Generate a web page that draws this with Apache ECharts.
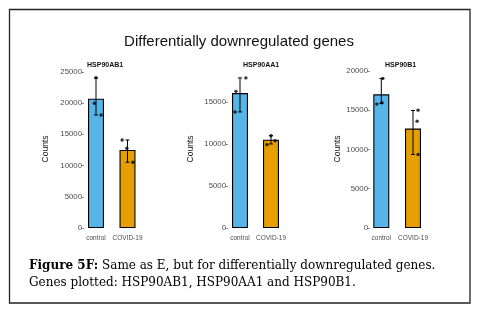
<!DOCTYPE html>
<html><head><meta charset="utf-8">
<script src="https://cdn.jsdelivr.net/npm/echarts@6/dist/echarts.min.js"></script>
<style>html,body{margin:0;padding:0;background:#fff}#c{width:478px;height:312px}</style>
</head><body><div id="c"></div>
<script>
const mainTitle = 'Differentially downregulated genes';
const genes = ['HSP90AB1', 'HSP90AA1', 'HSP90B1'];
const groups = ['control', 'COVID-19'];
const controlMean = [20700, 16050, 17000];
const covidMean = [12500, 10500, 12650];
const controlErrLow = [18100, 13810, 15850];
const controlErrHigh = [24000, 17860, 19030];
const covidErrLow = [10530, 10000, 9350];
const covidErrHigh = [14100, 10990, 14950];
const controlPoints = [[24080, 19980, 18100], [16260, 13810, 17860], [15760, 15930, 19030]];
const covidPoints = [[14100, 12770, 10530], [9920, 10990, 10390], [14990, 13590, 9350]];
const controlJitter = [[0, -0.05, 0.16], [-0.13, -0.16, 0.19], [-0.14, 0.02, 0.05]];
const covidJitter = [[-0.17, -0.02, 0.17], [-0.13, 0, 0.13], [0.16, 0.13, 0.16]];
const yMax = [25300, 18800, 20100];
const yTicks = [[0, 5000, 10000, 15000, 20000, 25000], [0, 5000, 10000, 15000], [0, 5000, 10000, 15000, 20000]];
const captionBold = 'Figure 5F:';
const captionLine1 = ' Same as E, but for differentially downregulated genes.';
const captionLine2 = 'Genes plotted: HSP90AB1, HSP90AA1 and HSP90B1.';
const groupColors = ['#56B4E9', '#E69F00'];

const layout = [
  {axisX: 84, c0: 96, c1: 127.5, nameGap: 34, titleX: 87},
  {axisX: 228, c0: 240, c1: 271, nameGap: 33, titleX: 243},
  {axisX: 370, c0: 381.3, c1: 413, nameGap: 28, titleX: 385}
];
const plotTop = 70, plotH = 158;

const grids = [], xAxes = [], yAxes = [], series = [];
const titles = [{
  text: mainTitle, left: 'center', top: 29,
  textStyle: {fontFamily: 'Liberation Sans', fontSize: 15, fontWeight: 'normal', color: '#111'}
}];

genes.forEach((g, i) => {
  const L = layout[i];
  const unit = L.c1 - L.c0;
  const xmin = -(L.c0 - L.axisX) / unit;
  const xmax = 1.5;
  grids.push({left: L.axisX, top: plotTop, width: (xmax - xmin) * unit, height: plotH});
  xAxes.push({
    type: 'value', gridIndex: i, min: xmin, max: xmax,
    axisLine: {show: false, onZero: false}, axisTick: {show: false}, splitLine: {show: false},
    axisLabel: {customValues: [0, 1], formatter: v => groups[Math.round(v)],
      fontFamily: 'Liberation Sans', fontSize: 6.5, color: '#4d4d4d', margin: 7}
  });
  yAxes.push({
    type: 'value', gridIndex: i, min: 0, max: yMax[i],
    axisLine: {show: false, onZero: false}, splitLine: {show: false},
    axisTick: {show: true, customValues: yTicks[i], length: 3, lineStyle: {color: '#777', width: 0.8}},
    axisLabel: {customValues: yTicks[i], formatter: v => String(v),
      fontFamily: 'Liberation Sans', fontSize: 7.8, color: '#4d4d4d', margin: 2},
    name: 'Counts', nameLocation: 'middle', nameGap: L.nameGap,
    nameTextStyle: {fontFamily: 'Liberation Sans', fontSize: 8.5, color: '#111'}
  });
  titles.push({
    text: g, left: L.titleX, top: 61.5, padding: 0,
    textStyle: {fontFamily: 'Liberation Sans', fontSize: 7, fontWeight: 'bold', color: '#111'}
  });
  series.push({
    type: 'bar', xAxisIndex: i, yAxisIndex: i, barWidth: 16, z: 2,
    data: [
      {value: [0, controlMean[i]], itemStyle: {color: groupColors[0]}},
      {value: [1, covidMean[i]], itemStyle: {color: groupColors[1]}}
    ],
    itemStyle: {borderColor: '#000', borderWidth: 1.1}
  });
  series.push({
    type: 'custom', xAxisIndex: i, yAxisIndex: i, z: 3,
    data: [[0, controlErrLow[i], controlErrHigh[i]], [1, covidErrLow[i], covidErrHigh[i]]],
    renderItem: (params, api) => {
      const lo = api.coord([api.value(0), api.value(1)]);
      const hi = api.coord([api.value(0), api.value(2)]);
      const cw = 2;
      const st = {stroke: '#000', lineWidth: 1};
      return {type: 'group', children: [
        {type: 'line', shape: {x1: lo[0], y1: lo[1], x2: hi[0], y2: hi[1]}, style: st},
        {type: 'line', shape: {x1: lo[0] - cw, y1: lo[1], x2: lo[0] + cw, y2: lo[1]}, style: st},
        {type: 'line', shape: {x1: hi[0] - cw, y1: hi[1], x2: hi[0] + cw, y2: hi[1]}, style: st}
      ]};
    }
  });
  const pts = [];
  controlPoints[i].forEach((v, k) => pts.push([0 + controlJitter[i][k], v]));
  covidPoints[i].forEach((v, k) => pts.push([1 + covidJitter[i][k], v]));
  series.push({
    type: 'scatter', xAxisIndex: i, yAxisIndex: i, z: 4, symbolSize: 3.4,
    itemStyle: {color: '#000'}, data: pts
  });
});

const chart = echarts.init(document.getElementById('c'), null, {renderer: 'canvas'});
chart.setOption({
  backgroundColor: '#fff',
  animation: false,
  title: titles,
  grid: grids, xAxis: xAxes, yAxis: yAxes, series: series,
  graphic: [
    {type: 'rect', shape: {x: 9.5, y: 9.5, width: 460.5, height: 293.5},
     style: {fill: 'none', stroke: '#222', lineWidth: 1.3}, z: 10},
    {type: 'text', left: 29, top: 260, style: {
      text: '{b|' + captionBold + '}{n|' + captionLine1 + '}\n{n|' + captionLine2 + '}',
      rich: {
        b: {fontFamily: 'DejaVu Serif', fontSize: 12, fontWeight: 'bold', color: '#111', lineHeight: 17},
        n: {fontFamily: 'DejaVu Serif', fontSize: 12, color: '#111', lineHeight: 17}
      }
    }}
  ]
});
</script></body></html>
